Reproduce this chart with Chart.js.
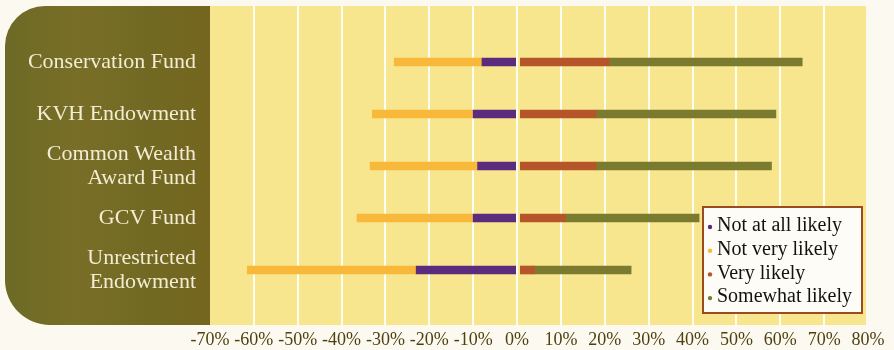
<!DOCTYPE html>
<html>
<head>
<meta charset="utf-8">
<script src="https://cdn.jsdelivr.net/npm/chart.js@4/dist/chart.umd.min.js"></script>
<style>
  html, body { margin: 0; padding: 0; background: #fcfaf0; }
  canvas { display: block; }
</style>
</head>
<body>
<canvas id="c" width="894" height="350"></canvas>
<script>
// Funds surveyed (top to bottom)
const funds = [
  'Conservation Fund',
  'KVH Endowment',
  ['Common Wealth', 'Award Fund'],
  'GCV Fund',
  ['Unrestricted', 'Endowment']
];

// Share of respondents per answer, in percent (negative = unlikely side)
const notAtAllLikely = [-8, -10, -9, -10, -23];
const notVeryLikely  = [-20, -23, -24.5, -26.5, -38.5];
const veryLikely     = [21, 18, 18, 11, 4];
const somewhatLikely = [44, 41, 40, 30.5, 22];

// Percent axis range and step
const axisMin = -70;
const axisMax = 80;
const axisStep = 10;

const colors = {
  notAtAll: '#5b2b7e',
  notVery:  '#f8b93b',
  very:     '#b5562a',
  somewhat: '#7b7b2f'
};

const fieldTop = 6, fieldBottom = 325;

// Olive label panel, yellow plot field and white gridlines
const backdrop = {
  id: 'backdrop',
  beforeDraw(chart) {
    const { ctx, scales: { x } } = chart;
    const left = 5;
    const edge = x.left;
    ctx.save();
    ctx.fillStyle = '#fcfaf0';
    ctx.fillRect(0, 0, chart.width, chart.height);

    // label panel with rounded left corners
    ctx.beginPath();
    ctx.moveTo(edge, fieldTop);
    ctx.lineTo(left + 40, fieldTop);
    ctx.arcTo(left, fieldTop, left, fieldTop + 40, 40);
    ctx.lineTo(left, fieldBottom - 45);
    ctx.arcTo(left, fieldBottom, left + 45, fieldBottom, 45);
    ctx.lineTo(edge, fieldBottom);
    ctx.closePath();
    const g = ctx.createLinearGradient(left, 0, edge, 0);
    g.addColorStop(0, '#6c6a25');
    g.addColorStop(0.35, '#786e27');
    g.addColorStop(0.7, '#716923');
    g.addColorStop(1, '#75661f');
    ctx.fillStyle = g;
    ctx.fill();

    // plot field
    ctx.fillStyle = '#f8e68e';
    ctx.fillRect(edge, fieldTop, x.right - 2 - edge, fieldBottom - fieldTop);

    // gridlines
    ctx.fillStyle = '#fffdf2';
    for (let v = axisMin + axisStep; v < axisMax; v += axisStep) {
      const px = Math.round(x.getPixelForValue(v));
      ctx.fillRect(px - 1, fieldTop, 2, fieldBottom - fieldTop);
    }
    ctx.restore();
  },
  // zero line stays visible between the two sides of each bar
  afterDatasetsDraw(chart) {
    const { ctx, scales: { x } } = chart;
    const px = Math.round(x.getPixelForValue(0));
    ctx.save();
    ctx.fillStyle = '#fffdf2';
    ctx.fillRect(px - 1, fieldTop, 2, fieldBottom - fieldTop);
    ctx.fillStyle = '#f8e68e';
    ctx.fillRect(px + 1, chart.chartArea.top, 2, chart.chartArea.height);
    ctx.restore();
  }
};

// Boxed legend in the lower right of the plot
const boxLegend = {
  id: 'boxLegend',
  afterDraw(chart) {
    const { ctx } = chart;
    const bx = 703, by = 207, bw = 159, bh = 106;
    ctx.save();
    ctx.fillStyle = '#fdfcf6';
    ctx.fillRect(bx, by, bw, bh);
    ctx.strokeStyle = '#9b4b1f';
    ctx.lineWidth = 2;
    ctx.strokeRect(bx, by, bw, bh);
    ctx.font = '20px "Liberation Serif", serif';
    ctx.textBaseline = 'middle';
    ctx.textAlign = 'left';
    chart.data.datasets.forEach((ds, i) => {
      const y = by + 19 + i * 23.7;
      ctx.fillStyle = ds.backgroundColor;
      ctx.beginPath();
      ctx.arc(bx + 7, y + 1, 2.2, 0, Math.PI * 2);
      ctx.fill();
      ctx.fillStyle = '#141210';
      ctx.fillText(ds.label, bx + 14, y);
    });
    ctx.restore();
  }
};

new Chart(document.getElementById('c'), {
  type: 'bar',
  data: {
    labels: funds,
    datasets: [
      { label: 'Not at all likely', data: notAtAllLikely, backgroundColor: colors.notAtAll },
      { label: 'Not very likely',   data: notVeryLikely,  backgroundColor: colors.notVery },
      { label: 'Very likely',       data: veryLikely,     backgroundColor: colors.very },
      { label: 'Somewhat likely',   data: somewhatLikely, backgroundColor: colors.somewhat }
    ]
  },
  options: {
    indexAxis: 'y',
    responsive: false,
    animation: false,
    layout: { padding: { top: 36, right: 26, bottom: 0, left: 0 } },
    datasets: { bar: { barThickness: 8, borderWidth: 0 } },
    plugins: {
      legend: { display: false },
      tooltip: { enabled: false }
    },
    scales: {
      x: {
        stacked: true,
        min: axisMin,
        max: axisMax,
        grid: { display: false, drawTicks: false },
        border: { display: false },
        afterFit(scale) {
          scale.height = 54;
          scale.paddingLeft = 0;
          scale.paddingRight = 0;
        },
        ticks: {
          stepSize: axisStep,
          autoSkip: false,
          maxRotation: 0,
          padding: 33,
          color: '#4f3f10',
          font: { family: '"Liberation Serif", serif', size: 18 },
          callback: v => v + '%'
        }
      },
      y: {
        stacked: true,
        grid: { display: false, drawTicks: false },
        border: { display: false },
        afterFit(scale) {
          scale.width = 210;
          scale.paddingTop = 0;
          scale.paddingBottom = 0;
        },
        ticks: {
          autoSkip: false,
          padding: 14,
          color: '#f3ecd3',
          font: { family: '"Liberation Serif", serif', size: 22, lineHeight: 1.08 }
        }
      }
    }
  },
  plugins: [backdrop, boxLegend]
});
</script>
</body>
</html>
